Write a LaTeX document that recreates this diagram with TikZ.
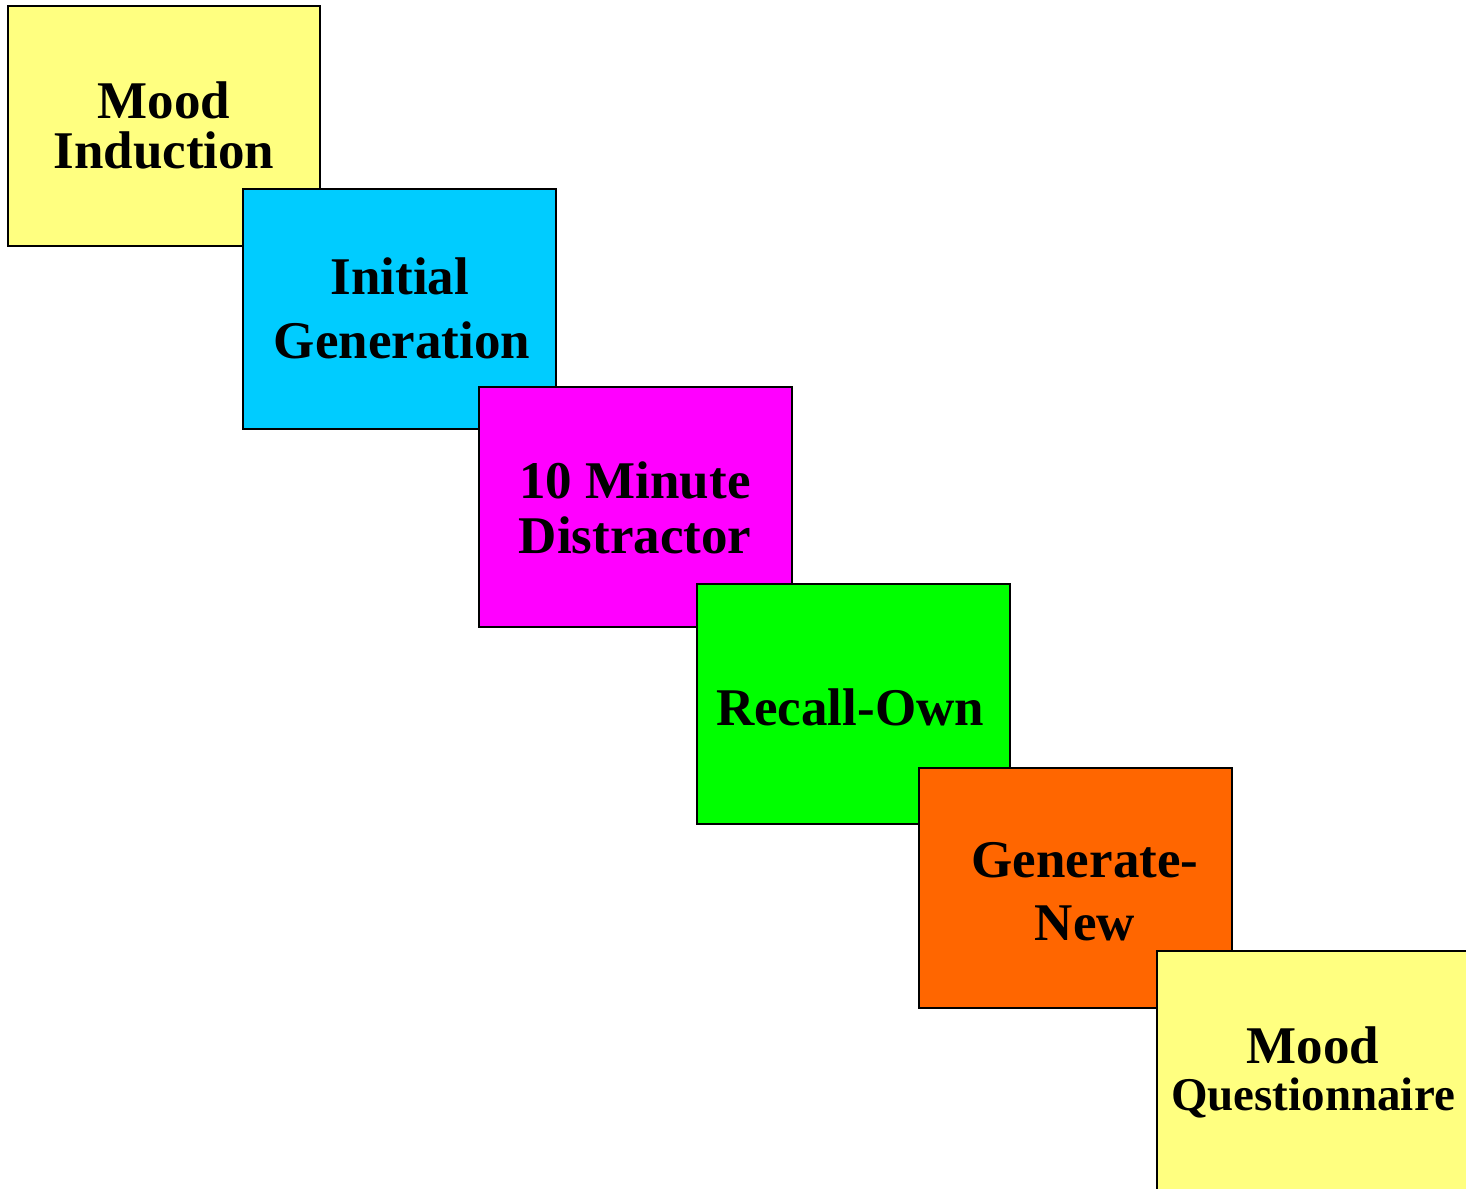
\documentclass[tikz,border=0pt]{standalone}
\usepackage{fontspec}
\setmainfont{Liberation Serif}
\begin{document}
\begin{tikzpicture}[x=1pt,y=-1pt,
  stagebox/.style={draw=black,line width=2pt,inner sep=0pt,outer sep=0pt},
  lbl/.style={anchor=base,inner sep=0pt,font=\fontsize{53}{53}\selectfont\bfseries},
  smalllbl/.style={anchor=base,inner sep=0pt,font=\fontsize{47}{47}\selectfont\bfseries}]
\useasboundingbox (0,0) rectangle (1466,1188);
\definecolor{cyellow}{HTML}{FFFF80}
\definecolor{ccyan}{HTML}{00CCFF}
\definecolor{cmag}{HTML}{FF00FF}
\definecolor{cgreen}{HTML}{00FF00}
\definecolor{corange}{HTML}{FF6600}
% box 1
\path[stagebox,fill=cyellow] (8,6) rectangle (320,246) coordinate (b1);
\node[lbl] (t1a) at (164,118) {Mood};
\node[lbl] (t1b) at (164,168) {Induction};
% box 2
\path[stagebox,fill=ccyan] (243,189) rectangle (556,429) coordinate (b2);
\node[lbl] (t2a) at (400,294) {Initial};
\node[lbl] (t2b) at (402,358) {Generation};
% box 3
\path[stagebox,fill=cmag] (479,387) rectangle (792,627) coordinate (b3);
\node[lbl] (t3a) at (635,498) {10 Minute};
\node[lbl] (t3b) at (635,553) {Distractor};
% box 4
\path[stagebox,fill=cgreen] (697,584) rectangle (1010,824) coordinate (b4);
\node[lbl] (t4a) at (850,725) {Recall-Own};
% box 5
\path[stagebox,fill=corange] (919,768) rectangle (1232,1008) coordinate (b5);
\node[lbl] (t5a) at (1085,877) {Generate-};
\node[lbl] (t5b) at (1085,940) {New};
% box 6
\path[stagebox,fill=cyellow] (1157,951) rectangle (1472,1194) coordinate (b6);
\node[lbl] (t6a) at (1313,1063) {Mood};
\node[smalllbl] (t6b) at (1313,1110) {Questionnaire};
\end{tikzpicture}
\end{document}
